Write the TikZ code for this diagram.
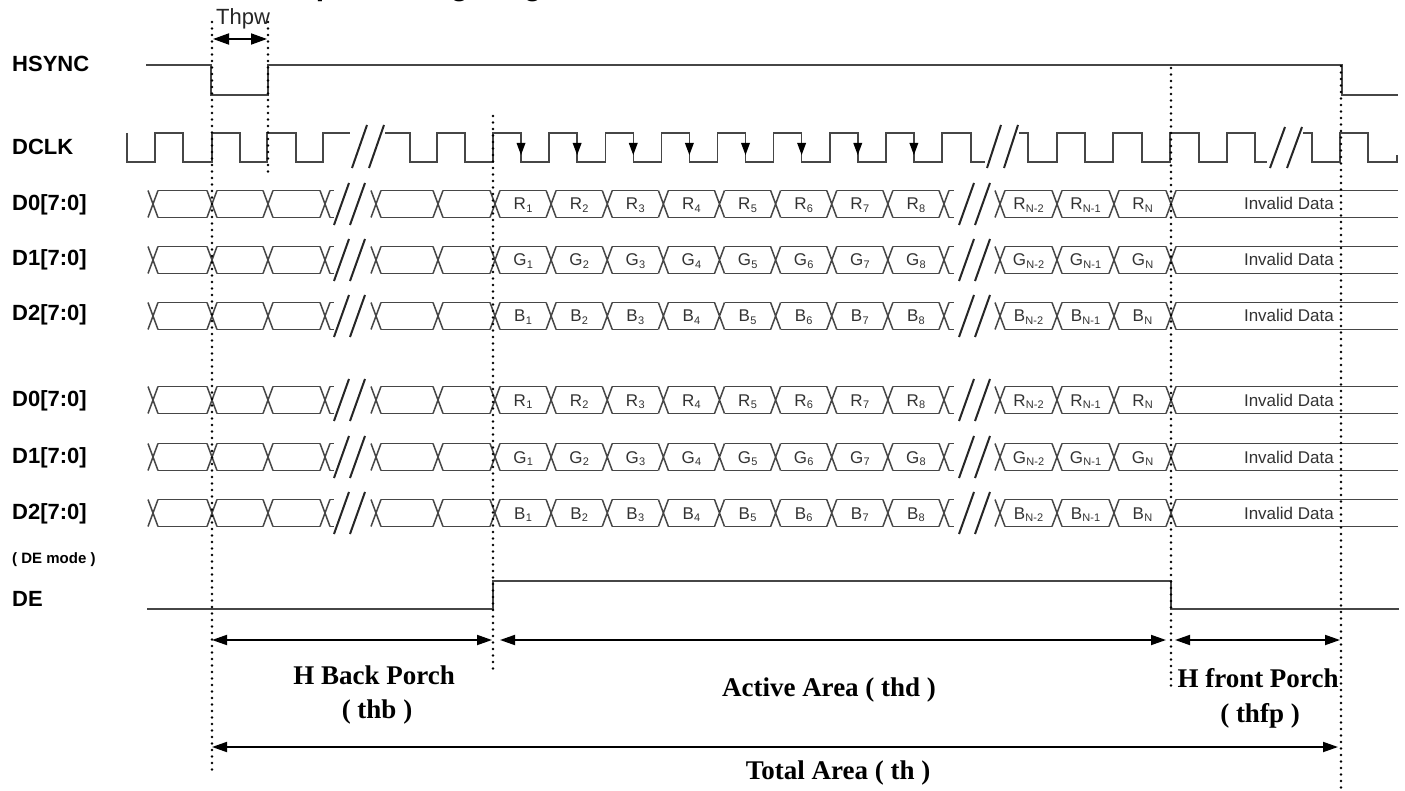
\documentclass[tikz,border=0pt]{standalone}
\usepackage{fontspec}
\setmainfont{Liberation Sans}
\newfontfamily\tnr{Liberation Serif}
\usetikzlibrary{arrows.meta}
\definecolor{wv}{RGB}{70,70,70}
\tikzset{
 wave/.style={draw=wv, line width=1.5pt, line join=miter},
 brk/.style={draw=black!85, line width=2pt},
 dotv/.style={draw=black, line width=2.6pt, dash pattern=on 0pt off 6.5pt, line cap=round},
 dimarrow/.style={draw=black, line width=1.8pt, {Triangle[length=15pt,width=10pt]}-{Triangle[length=15pt,width=10pt]}},
 sig/.style={anchor=base west, font=\fontsize{22}{24}\selectfont\bfseries, text=black, inner sep=0pt},
 dlab/.style={anchor=base, font=\fontsize{17}{18}\selectfont, text=black!80, inner sep=0pt},
 bot/.style={font=\tnr\fontsize{27}{29}\selectfont\bfseries, inner sep=0pt, text=black},
}
\newcommand\sbx[2]{#1\kern0.3pt\raisebox{-2.5pt}{\fontsize{11}{11}\selectfont #2}}
\newcommand\busrow[2]{%
 \foreach \t in {153,212,268,325,376,438,495,551.125,607.25,663.375,719.5,775.625,831.75,887.875,944,1000,1057,1114,1171}
   \draw[wave] (\t-5,#1-13.5)--(\t+5,#1+13.5) (\t-5,#1+13.5)--(\t+5,#1-13.5);
 \foreach \a/\b in {153/212,212/268,268/325,376/438,438/495,495/551.125,551.125/607.25,607.25/663.375,663.375/719.5,719.5/775.625,775.625/831.75,831.75/887.875,887.875/944,1000/1057,1057/1114,1114/1171}
   \draw[wave] (\a+5,#1-13.5)--(\b-5,#1-13.5) (\a+5,#1+13.5)--(\b-5,#1+13.5);
 \draw[wave] (330,#1-13.5)--(334,#1-13.5) (330,#1+13.5)--(334,#1+13.5);
 \draw[wave] (949,#1-13.5)--(954,#1-13.5) (949,#1+13.5)--(954,#1+13.5);
 \draw[wave] (1176,#1-13.5)--(1398,#1-13.5) (1176,#1+13.5)--(1398,#1+13.5);
 \draw[brk] (334,#1+21)--(349,#1-21) (350,#1+21)--(365,#1-21);
 \draw[brk] (959,#1+21)--(974,#1-21) (975,#1+21)--(990,#1-21);
 \foreach \k in {1,...,8}
   \node[dlab] (d#1#2\k) at (495+56.125*\k-28.06,#1+6) {\sbx{#2}{\k}};
 \node[dlab] (d#1#2a) at (1028.5,#1+6) {\sbx{#2}{N-2}};
 \node[dlab] (d#1#2b) at (1085.5,#1+6) {\sbx{#2}{N-1}};
 \node[dlab] (d#1#2c) at (1142.5,#1+6) {\sbx{#2}{N}};
 \node[dlab, anchor=base east] (d#1#2inv) at (1334,#1+6) {Invalid Data};
}
\begin{document}
\begin{tikzpicture}[x=1pt,y=-1pt]
\useasboundingbox (0,0) rectangle (1405,791);
\clip (0,0) rectangle (1405,791);
\fill[white] (0,0) rectangle (1405,791);
% clipped title
\node[anchor=base west, font=\fontsize{30}{30}\selectfont\bfseries, inner sep=0pt] (title) at (289,-4.3) {Input Timing Diagram};
% signal labels
\node[sig] (lhs) at (12,72) {HSYNC};
\node[sig] (lck) at (12,155) {DCLK};
\node[sig] (l1) at (12,211) {D0[7:0]};
\node[sig] (l2) at (12,266) {D1[7:0]};
\node[sig] (l3) at (12,321) {D2[7:0]};
\node[sig] (l4) at (12,406) {D0[7:0]};
\node[sig] (l5) at (12,463) {D1[7:0]};
\node[sig] (l6) at (12,519) {D2[7:0]};
\node[sig, font=\fontsize{15}{16}\selectfont\bfseries] (lmode) at (12,563) {( DE mode )};
\node[sig] (lde) at (12,606) {DE};
% HSYNC
\draw[wave] (146,65)--(211,65)--(211,95)--(268,95)--(268,65)--(1342,65)--(1342,95)--(1398,95);
% DCLK
\draw[wave] (127,133)--(127,162)--(155,162)--(155,133)--(183,133)--(183,162)--(212,162)--(212,133)--(240,133)--(240,162)--(267,162)--(267,133)--(296,133)--(296,162)--(323,162)--(323,133)--(350,133);
\draw[brk] (352,168)--(367,125) (369,168)--(384,125);
\draw[wave] (385,133)--(410,133)--(410,162)--(437,162)--(437,133)--(465,133)--(465,162)--(493,162)
 \foreach \k in {0,...,7}{ --(493+56.125*\k,133)--(521+56.125*\k,133)--(521+56.125*\k,162)--(549.125+56.125*\k,162) }
 --(942,133)--(971,133)--(971,162)--(985,162);
\foreach \k in {0,...,7}
 \fill[black] (516.5+56.125*\k,143)--(525.5+56.125*\k,143)--(521+56.125*\k,155)--cycle;
\draw[brk] (987,168)--(1001,125) (1004,168)--(1018,125);
\draw[wave] (1019,133)--(1028,133)--(1028,162)--(1057,162)--(1057,133)--(1085,133)--(1085,162)--(1113,162)--(1113,133)--(1142,133)--(1142,162)--(1170,162)--(1170,133)--(1199,133)--(1199,162)--(1227,162)--(1227,133)--(1255,133)--(1255,162)--(1267,162);
\draw[brk] (1270,168)--(1285,127) (1287,168)--(1302,127);
\draw[wave] (1303,133)--(1312,133)--(1312,162)--(1340,162)--(1340,133)--(1368,133)--(1368,162)--(1397,162)--(1397,155);
% data buses
\busrow{204}{R}
\busrow{260}{G}
\busrow{316}{B}
\busrow{400}{R}
\busrow{457}{G}
\busrow{513}{B}
% DE
\draw[wave] (147,609)--(493,609)--(493,581)--(1171,581)--(1171,609)--(1399,609);
% dotted markers
\coordinate (v1t) at (212,22); \coordinate (v1b) at (212,776);
\coordinate (v2t) at (268,22); \coordinate (v2b) at (268,174);
\coordinate (v3t) at (493,116); \coordinate (v3b) at (493,674);
\coordinate (v4t) at (1171,68); \coordinate (v4b) at (1171,688);
\coordinate (v5t) at (1341,66); \coordinate (v5b) at (1341,788);
\draw[dotv] (v1t)--(v1b);
\draw[dotv] (v2t)--(v2b);
\draw[dotv] (v3t)--(v3b);
\draw[dotv] (v4t)--(v4b);
\draw[dotv] (v5t)--(v5b);
% Thpw
\coordinate (tpa) at (213,39); \coordinate (tpb) at (267,39);
\draw[draw=black, line width=1.8pt, {Triangle[length=16pt,width=11pt]}-{Triangle[length=16pt,width=11pt]}] (tpa)--(tpb);
\node[anchor=base, font=\fontsize{22}{24}\selectfont, inner sep=0pt, text=black!85] (thpw) at (243,25) {Thpw};
% dimension arrows
\coordinate (a1) at (212,640); \coordinate (a2) at (492,640);
\coordinate (a3) at (500,640); \coordinate (a4) at (1166,640);
\coordinate (a5) at (1175,640); \coordinate (a6) at (1340,640);
\coordinate (a7) at (212,747); \coordinate (a8) at (1338,747);
\draw[dimarrow] (a1)--(a2);
\draw[dimarrow] (a3)--(a4);
\draw[dimarrow] (a5)--(a6);
\draw[dimarrow] (a7)--(a8);
\node[bot] (hbp) at (374,675) {H Back Porch};
\node[bot] (thb) at (377,712) {( thb )};
\node[bot] (act) at (829,690) {Active Area ( thd )};
\node[bot] (hfp) at (1258,678) {H front Porch};
\node[bot] (thfp) at (1260,716) {( thfp )};
\node[bot] (tot) at (838,773) {Total Area ( th )};
\end{tikzpicture}
\end{document}
